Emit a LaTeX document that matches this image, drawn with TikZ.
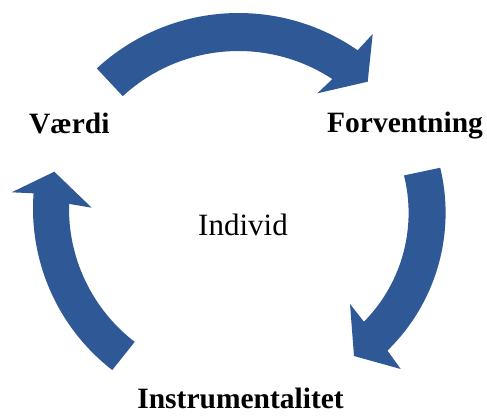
\documentclass[tikz,border=0pt]{standalone}
\usepackage{fontspec}
\setmainfont{Liberation Serif}
\usetikzlibrary{calc}
\definecolor{arrowblue}{RGB}{47,88,150}
\tikzset{
  cyclearrow/.style={fill=arrowblue, draw=none},
  boldlabel/.style={font=\fontsize{29.5}{32}\selectfont\bfseries, inner sep=0pt},
  plainlabel/.style={font=\fontsize{31}{34}\selectfont, inner sep=0pt}
}
\begin{document}
\begin{tikzpicture}[x=1pt,y=1pt,yscale=-1]
\useasboundingbox (0,0) rectangle (487,416);
\coordinate (C1) at (238.5,222);
\coordinate (C2) at (253.6,212.9);
\coordinate (C3) at (237,208.6);
% top arrow
\fill[cyclearrow] ($(C1)+(-132.7:209)$) arc[start angle=-132.7, end angle=-55.25, radius=209]
  -- (372.7,34) -- (367.7,81.7) -- (317.3,93.3)
  -- ($(C1)+(-56.7:171)$) arc[start angle=-56.7, end angle=-132.6, radius=171] -- cycle;
% right arrow
\fill[cyclearrow] ($(C2)+(-13.6:192)$) arc[start angle=-13.6, end angle=45.8, radius=192]
  -- (400.7,369) -- (354,356) -- (350,304)
  -- ($(C2)+(44.6:155)$) arc[start angle=44.6, end angle=-14, radius=155] -- cycle;
% left arrow
\fill[cyclearrow] ($(C3)+(127.7:204)$) arc[start angle=127.7, end angle=184.3, radius=204]
  -- (11.7,192.3) -- (54.3,171.7) -- (91.7,207.7)
  -- ($(C3)+(181.6:168)$) arc[start angle=181.6, end angle=127.5, radius=168] -- cycle;
% labels
\node[boldlabel, anchor=base west] (vaerdi) at (29,133.3) {Værdi};
\node[boldlabel, anchor=base west] (forv) at (327,132.3) {Forventning};
\node[boldlabel, anchor=base east] (instr) at (344,408.3) {Instrumentalitet};
\node[plainlabel, anchor=base] (indiv) at (243,235) {Individ};
\end{tikzpicture}
\end{document}
